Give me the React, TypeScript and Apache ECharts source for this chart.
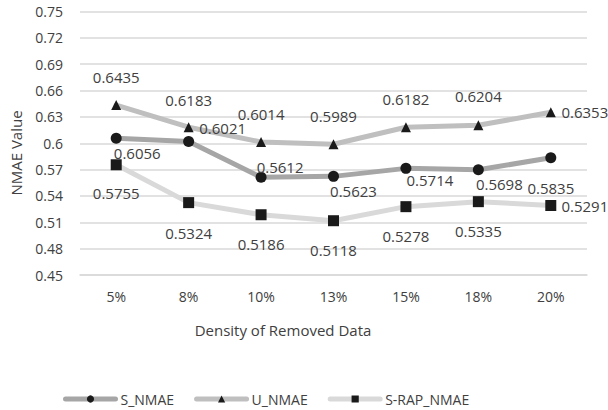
import React, { useEffect, useRef } from "react";
import * as echarts from "echarts";

const categories = ["5%", "8%", "10%", "13%", "15%", "18%", "20%"];
const sNmae = [0.6056, 0.6021, 0.5612, 0.5623, 0.5714, 0.5698, 0.5835];
const uNmae = [0.6435, 0.6183, 0.6014, 0.5989, 0.6182, 0.6204, 0.6353];
const sRapNmae = [0.5755, 0.5324, 0.5186, 0.5118, 0.5278, 0.5335, 0.5291];

const FONT = "'Open Sans', 'Noto Sans', sans-serif";

// Label placement (centre of label relative to the marker centre), per point.
const sOffsets: [number, number][] = [
  [21, 15], [34, -13], [19, -10], [20, 15], [24, 12], [21, 14], [0, 30],
];
const uOffsets: [number, number][] = [
  [0, -28], [0, -27], [0, -28], [0, -28], [0, -28], [0, -29], [34, 0],
];
const rOffsets: [number, number][] = [
  [0, 28], [0, 30], [0, 29], [0, 29], [0, 29], [0, 29], [34, 0],
];

function withLabels(values: number[], offsets: [number, number][]) {
  return values.map((v, i) => ({
    value: v,
    label: { position: "inside" as const, offset: offsets[i] },
  }));
}

export default function App() {
  const ref = useRef<HTMLDivElement>(null);

  useEffect(() => {
    if (!ref.current) return;
    const chart = echarts.init(ref.current, undefined, { renderer: "svg" });

    const labelStyle = {
      show: true,
      color: "#404040",
      fontSize: 15,
      fontFamily: FONT,
      formatter: (p: any) => Number(p.value).toFixed(4),
    };

    const makeSeries = (
      name: string,
      values: number[],
      offsets: [number, number][],
      color: string,
      symbol: string,
      size: number
    ) => ({
      name,
      type: "line",
      data: withLabels(values, offsets),
      symbol,
      symbolSize: size,
      itemStyle: { color: "#1a1a1a" },
      lineStyle: { color, width: 5, cap: "round", join: "round" },
      label: labelStyle,
      emphasis: { disabled: true },
    });

    chart.setOption({
      animation: false,
      backgroundColor: "#ffffff",
      textStyle: { fontFamily: FONT },
      grid: {
        left: 80,
        right: 21,
        top: 11.5,
        bottom: 135,
        containLabel: false,
        outerBoundsMode: "none",
      },
      xAxis: {
        type: "category",
        data: categories,
        boundaryGap: true,
        axisLine: { show: true, lineStyle: { color: "#d9d9d9", width: 1.5 } },
        axisTick: { show: false },
        axisLabel: {
          color: "#404040",
          fontSize: 14,
          fontFamily: FONT,
          margin: 14,
        },
      },
      yAxis: {
        type: "value",
        min: 0.45,
        max: 0.75,
        interval: 0.03,
        axisLine: { show: false },
        axisTick: { show: false },
        splitLine: { lineStyle: { color: "#d9d9d9", width: 1.5 } },
        axisLabel: {
          color: "#404040",
          fontSize: 14,
          fontFamily: FONT,
          margin: 17,
          formatter: (v: number) => String(parseFloat(v.toFixed(2))),
        },
      },
      legend: {
        left: 58,
        top: 387,
        itemWidth: 50,
        itemHeight: 9,
        itemGap: 20,
        lineStyle: { width: 5, cap: "round" },
        textStyle: { color: "#404040", fontSize: 14, fontFamily: FONT },
        data: ["S_NMAE", "U_NMAE", "S-RAP_NMAE"],
      },
      graphic: [
        {
          type: "text",
          x: 283,
          y: 330,
          style: {
            text: "Density of Removed Data",
            fill: "#404040",
            fontSize: 15,
            fontFamily: FONT,
            align: "center",
            verticalAlign: "middle",
          },
        },
        {
          type: "text",
          x: 16,
          y: 153,
          rotation: Math.PI / 2,
          style: {
            text: "NMAE Value",
            fill: "#404040",
            fontSize: 15,
            fontFamily: FONT,
            align: "center",
            verticalAlign: "middle",
          },
        },
      ],
      series: [
        makeSeries("S_NMAE", sNmae, sOffsets, "#a6a6a6", "circle", 11),
        makeSeries("U_NMAE", uNmae, uOffsets, "#bfbfbf", "triangle", 10),
        makeSeries("S-RAP_NMAE", sRapNmae, rOffsets, "#d9d9d9", "rect", 11),
      ],
    });

    return () => chart.dispose();
  }, []);

  return (
    <div
      ref={ref}
      style={{ position: "fixed", left: 0, top: 0, width: 608, height: 410 }}
    />
  );
}
